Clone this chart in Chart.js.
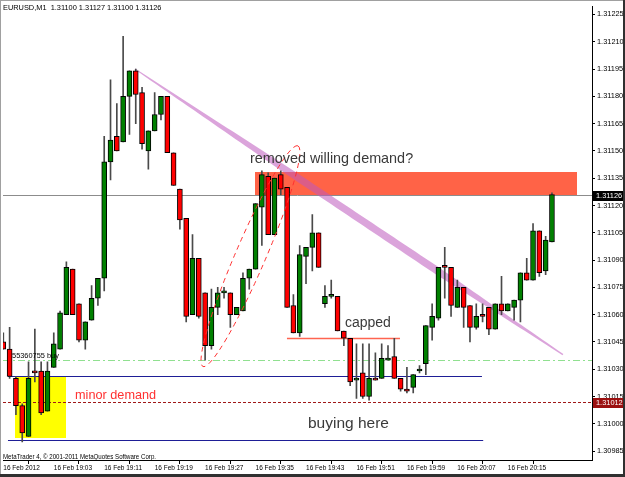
<!DOCTYPE html>
<html>
<head>
<meta charset="utf-8">
<title>EURUSD M1</title>
<script src="https://cdn.jsdelivr.net/npm/chart.js@4.4.1/dist/chart.umd.min.js"></script>
<style>
  html, body { margin: 0; padding: 0; background: #fff; }
  canvas { display: block; }
</style>
</head>
<body>
<canvas id="chart" width="625" height="477"></canvas>
<script>
// EURUSD, M1 - one value per bar, oldest first (bar index = x value)
const opens = [
  1.31045, 1.31041, 1.31025, 1.31010, 1.30993, 1.31029, 1.31029, 1.31007, 1.31031, 1.31041,
  1.31060, 1.31085, 1.31066, 1.31046, 1.31057, 1.31069, 1.31080, 1.31144, 1.31158, 1.31155,
  1.31180, 1.31194, 1.31182, 1.31150, 1.31161, 1.31170, 1.31180, 1.31149, 1.31129, 1.31113,
  1.31060, 1.31091, 1.31072, 1.31043, 1.31064, 1.31072, 1.31072, 1.31060, 1.31062, 1.31080,
  1.31085, 1.31119, 1.31136, 1.31104, 1.31137, 1.31130, 1.31065, 1.31050, 1.31092, 1.31097,
  1.31105, 1.31066, 1.31070, 1.31070, 1.31051, 1.31047, 1.31024, 1.31028, 1.31015, 1.31025,
  1.31025, 1.31035, 1.31037, 1.31025, 1.31019, 1.31020, 1.31029, 1.31033, 1.31053, 1.31058,
  1.31087, 1.31086, 1.31064, 1.31075, 1.31065, 1.31053, 1.31060, 1.31064, 1.31052, 1.31066,
  1.31062, 1.31064, 1.31068, 1.31083, 1.31079, 1.31106, 1.31084, 1.31100
];
const highs = [
  1.31050, 1.31053, 1.31026, 1.31011, 1.31034, 1.31052, 1.31034, 1.31034, 1.31050, 1.31062,
  1.31089, 1.31085, 1.31066, 1.31056, 1.31076, 1.31080, 1.31158, 1.31189, 1.31176, 1.31213,
  1.31194, 1.31195, 1.31185, 1.31161, 1.31182, 1.31180, 1.31180, 1.31149, 1.31129, 1.31113,
  1.31104, 1.31091, 1.31072, 1.31074, 1.31075, 1.31075, 1.31072, 1.31064, 1.31083, 1.31085,
  1.31121, 1.31139, 1.31138, 1.31135, 1.31139, 1.31130, 1.31071, 1.31098, 1.31097, 1.31115,
  1.31105, 1.31076, 1.31079, 1.31070, 1.31051, 1.31047, 1.31044, 1.31044, 1.31044, 1.31039,
  1.31044, 1.31043, 1.31047, 1.31025, 1.31031, 1.31027, 1.31032, 1.31054, 1.31066, 1.31086,
  1.31097, 1.31086, 1.31079, 1.31075, 1.31065, 1.31066, 1.31066, 1.31064, 1.31066, 1.31081,
  1.31066, 1.31068, 1.31083, 1.31091, 1.31110, 1.31106, 1.31103, 1.31127
];
const lows = [
  1.31041, 1.31025, 1.31005, 1.30990, 1.30993, 1.31023, 1.31005, 1.31007, 1.31031, 1.31041,
  1.31060, 1.31060, 1.31045, 1.31041, 1.31057, 1.31065, 1.31073, 1.31134, 1.31150, 1.31155,
  1.31159, 1.31165, 1.31151, 1.31140, 1.31161, 1.31167, 1.31149, 1.31131, 1.31107, 1.31056,
  1.31060, 1.31058, 1.31035, 1.31041, 1.31060, 1.31069, 1.31053, 1.31060, 1.31062, 1.31074,
  1.31085, 1.31098, 1.31104, 1.31104, 1.31126, 1.31064, 1.31050, 1.31048, 1.31077, 1.31084,
  1.31086, 1.31064, 1.31069, 1.31051, 1.31043, 1.31021, 1.31014, 1.31014, 1.31013, 1.31024,
  1.31025, 1.31035, 1.31025, 1.31018, 1.31017, 1.31017, 1.31028, 1.31027, 1.31046, 1.31057,
  1.31069, 1.31059, 1.31064, 1.31053, 1.31045, 1.31052, 1.31056, 1.31049, 1.31052, 1.31060,
  1.31062, 1.31057, 1.31056, 1.31079, 1.31079, 1.31081, 1.31082, 1.31100
];
const closes = [
  1.31041, 1.31026, 1.31010, 1.30995, 1.31025, 1.31028, 1.31006, 1.31029, 1.31044, 1.31061,
  1.31086, 1.31060, 1.31046, 1.31056, 1.31069, 1.31080, 1.31144, 1.31156, 1.31150, 1.31180,
  1.31194, 1.31181, 1.31154, 1.31161, 1.31170, 1.31180, 1.31149, 1.31131, 1.31112, 1.31059,
  1.31091, 1.31059, 1.31043, 1.31064, 1.31072, 1.31073, 1.31060, 1.31064, 1.31080, 1.31085,
  1.31121, 1.31137, 1.31104, 1.31135, 1.31129, 1.31064, 1.31050, 1.31093, 1.31097, 1.31105,
  1.31086, 1.31070, 1.31070, 1.31051, 1.31047, 1.31023, 1.31025, 1.31015, 1.31025, 1.31024,
  1.31036, 1.31036, 1.31025, 1.31019, 1.31018, 1.31027, 1.31029, 1.31054, 1.31059, 1.31086,
  1.31086, 1.31065, 1.31075, 1.31064, 1.31053, 1.31059, 1.31059, 1.31052, 1.31066, 1.31062,
  1.31066, 1.31068, 1.31083, 1.31079, 1.31106, 1.31083, 1.31101, 1.31126
];

// time axis
const timeTickBars = [0, 8, 16, 24, 32, 40, 48, 56, 64, 72, 80];
const timeLabels = ['16 Feb 2012', '16 Feb 19:03', '16 Feb 19:11', '16 Feb 19:19', '16 Feb 19:27',
  '16 Feb 19:35', '16 Feb 19:43', '16 Feb 19:51', '16 Feb 19:59', '16 Feb 20:07', '16 Feb 20:15'];

// price axis
const priceTicks = [1.30985, 1.31000, 1.31015, 1.31030, 1.31045, 1.31060, 1.31075, 1.31090, 1.31105,
  1.31120, 1.31135, 1.31150, 1.31165, 1.31180, 1.31195, 1.31210, 1.31225];
const priceMin = 1.309801;
const priceMax = 1.312294;
const barMin = -0.05;
const barMax = 93.35;

// header values (O H L C of the last bar)
const symbol = 'EURUSD,M1';
const bidPrice = 1.31126;

// drawn objects: zones (bar from, bar to, upper price, lower price)
const zoneFrom = [1.85, 39.9];
const zoneTo = [9.94, 90.96];
const zoneTop = [1.310255, 1.311386];
const zoneBottom = [1.30992, 1.31126];

// horizontal levels (price, bar from, bar to)
const levelPrice = [1.31126, 1.31035, 1.31012, 1.31026, 1.30991, 1.31047];
const levelFrom = [barMin, barMin, barMin, 0.74, 0.74, 44.98];
const levelTo = [barMax, barMax, barMax, 75.9, 76.1, 62.9];

// falling trend line (bar, price) at both ends
const trendBars = [20.88, 88.74];
const trendPrices = [1.31195, 1.31038];

// hand-drawn ellipse, ends of its long axis (bar, price)
const ellipseBars = [31.66, 46.72];
const ellipsePrices = [1.310315, 1.311528];

// text notes (bar, price at baseline)
const noteTexts = ['removed willing demand?', 'capped', 'buying here', 'minor demand', '55360755 buy'];
const noteBars = [39.11, 54.17, 48.31, 11.37, 1.38];
const notePrices = [1.311435, 1.310533, 1.309976, 1.310134, 1.310364];

// ---- styles ----
const GREEN = '#008000';
const RED = '#ff0000';
const zoneColors = ['#ffff00', '#ff6347'];
const levelStyles = [
  { color: '#8c8c8c', width: 1, dash: [] },
  { color: '#90e090', width: 1, dash: [7, 3, 2, 3] },
  { color: '#a01818', width: 1, dash: [3, 2] },
  { color: '#1e1e96', width: 1, dash: [] },
  { color: '#1e1e96', width: 1, dash: [] },
  { color: '#ff6450', width: 1.5, dash: [] }
];
const noteStyles = [
  { font: '14.4px "Liberation Sans"', color: '#3a3a3a' },
  { font: '14px "Liberation Sans"', color: '#3a3a3a' },
  { font: '15.5px "Liberation Sans"', color: '#3a3a3a' },
  { font: '12.7px "Liberation Sans"', color: '#ff3030' },
  { font: '7.4px "Liberation Sans"', color: '#000' }
];
// band width of the trend line along its length
const bandT = [0, 0.13, 0.245, 0.36, 0.71, 0.81, 0.875, 1];
const bandW = [1, 3, 5, 7, 7.5, 5, 3.5, 1.5];

function bandWidth(t) {
  for (let k = 1; k < bandT.length; k++) {
    if (t <= bandT[k]) {
      const f = (t - bandT[k - 1]) / (bandT[k] - bandT[k - 1]);
      return bandW[k - 1] + f * (bandW[k] - bandW[k - 1]);
    }
  }
  return bandW[bandW.length - 1];
}

function fitText(ctx, text, x, y, width) {
  const w = ctx.measureText(text).width;
  ctx.save();
  ctx.translate(x, y);
  if (width && w > width) ctx.scale(width / w, 1);
  ctx.fillText(text, 0, 0);
  ctx.restore();
}

const overlay = {
  id: 'overlay',
  beforeDatasetsDraw(chart) {
    const { ctx, chartArea: a, scales: { x, y } } = chart;
    ctx.save();
    ctx.beginPath();
    ctx.rect(a.left, a.top, a.right - a.left, a.bottom - a.top);
    ctx.clip();

    // zones
    zoneFrom.forEach((b, i) => {
      const x0 = Math.round(x.getPixelForValue(b));
      const x1 = Math.round(x.getPixelForValue(zoneTo[i]));
      const y0 = Math.round(y.getPixelForValue(zoneTop[i]));
      const y1 = Math.round(y.getPixelForValue(zoneBottom[i]));
      ctx.fillStyle = zoneColors[i];
      ctx.fillRect(x0, y0, x1 - x0, y1 - y0);
    });

    // levels
    levelPrice.forEach((p, i) => {
      const s = levelStyles[i];
      const py = Math.round(y.getPixelForValue(p)) + 0.5;
      ctx.beginPath();
      ctx.strokeStyle = s.color;
      ctx.lineWidth = s.width;
      ctx.setLineDash(s.dash);
      ctx.moveTo(x.getPixelForValue(levelFrom[i]), py);
      ctx.lineTo(x.getPixelForValue(levelTo[i]), py);
      ctx.stroke();
    });
    ctx.setLineDash([]);

    // trend line as a tapered band
    const x0 = x.getPixelForValue(trendBars[0]), y0 = y.getPixelForValue(trendPrices[0]);
    const x1 = x.getPixelForValue(trendBars[1]), y1 = y.getPixelForValue(trendPrices[1]);
    const dx = x1 - x0, dy = y1 - y0, len = Math.hypot(dx, dy);
    const nx = -dy / len, ny = dx / len;
    const side1 = [], side2 = [];
    for (let k = 0; k <= 80; k++) {
      const t = k / 80, h = bandWidth(t) / 2;
      const cx = x0 + dx * t, cy = y0 + dy * t;
      side1.push([cx + nx * h, cy + ny * h]);
      side2.push([cx - nx * h, cy - ny * h]);
    }
    ctx.beginPath();
    side1.forEach((p, k) => (k ? ctx.lineTo(p[0], p[1]) : ctx.moveTo(p[0], p[1])));
    side2.reverse().forEach(p => ctx.lineTo(p[0], p[1]));
    ctx.closePath();
    ctx.fillStyle = 'rgba(190, 90, 190, 0.55)';
    ctx.fill();
    ctx.restore();
  },
  afterDatasetsDraw(chart) {
    const { ctx, chartArea: a, scales: { x, y } } = chart;
    ctx.save();
    ctx.beginPath();
    ctx.rect(a.left, a.top, a.right - a.left, a.bottom - a.top);
    ctx.clip();

    // dashed ellipse round the rally
    const ex0 = x.getPixelForValue(ellipseBars[0]), ey0 = y.getPixelForValue(ellipsePrices[0]);
    const ex1 = x.getPixelForValue(ellipseBars[1]), ey1 = y.getPixelForValue(ellipsePrices[1]);
    ctx.beginPath();
    ctx.ellipse((ex0 + ex1) / 2, (ey0 + ey1) / 2, Math.hypot(ex1 - ex0, ey1 - ey0) / 2, 15,
      Math.atan2(ey1 - ey0, ex1 - ex0), 0, Math.PI * 2);
    ctx.setLineDash([5, 4]);
    ctx.strokeStyle = '#ff3030';
    ctx.lineWidth = 1;
    ctx.stroke();
    ctx.setLineDash([]);

    // notes
    ctx.textBaseline = 'alphabetic';
    ctx.textAlign = 'left';
    noteTexts.forEach((t, i) => {
      ctx.font = noteStyles[i].font;
      ctx.fillStyle = noteStyles[i].color;
      ctx.fillText(t, x.getPixelForValue(noteBars[i]), y.getPixelForValue(notePrices[i]));
    });
    ctx.restore();
  },
  afterDraw(chart) {
    const { ctx, chartArea: a, scales: { y } } = chart;
    ctx.save();
    ctx.textBaseline = 'alphabetic';
    ctx.textAlign = 'left';
    ctx.fillStyle = '#000';
    ctx.font = '7.4px "Liberation Sans"';
    const n = closes.length - 1;
    const head = symbol + '  ' + [opens[n], highs[n], lows[n], closes[n]].map(v => v.toFixed(5)).join(' ');
    fitText(ctx, head, 3, 9.5, 161);
    fitText(ctx, 'MetaTrader 4, \u00a9 2001-2011 MetaQuotes Software Corp.', 3, 458.5, 153);

    // price tags on the axis
    const tags = [[bidPrice, '#000000'], [levelPrice[2], '#9b1010']];
    tags.forEach(([p, c]) => {
      const py = Math.round(y.getPixelForValue(p));
      ctx.fillStyle = c;
      ctx.fillRect(a.right + 1, py - 4, 30, 10);
      ctx.fillStyle = '#fff';
      ctx.font = '7.4px "Liberation Sans"';
      ctx.textBaseline = 'middle';
      ctx.fillText(p.toFixed(5), a.right + 4, py + 1);
    });

    // window frame
    ctx.fillStyle = '#a0a0a0';
    ctx.fillRect(0, 0, 625, 1);
    ctx.fillRect(0, 0, 1, 477);
    ctx.fillStyle = '#303030';
    ctx.fillRect(0, 474, 625, 3);
    ctx.fillRect(623, 0, 2, 477);
    ctx.restore();
  }
};

const bars = opens.map((o, i) => i);

new Chart(document.getElementById('chart'), {
  type: 'bar',
  data: {
    datasets: [
      {
        label: 'body',
        order: 0,
        data: bars.map(i => ({ x: i, y: [opens[i], closes[i]] })),
        backgroundColor: c => (closes[c.dataIndex] >= opens[c.dataIndex] ? GREEN : RED),
        borderColor: '#000',
        borderWidth: 1,
        borderSkipped: false,
        barThickness: 5,
        minBarLength: 2,
        grouped: false
      },
      {
        label: 'wick',
        order: 1,
        data: bars.map(i => ({ x: i, y: [lows[i], highs[i]] })),
        backgroundColor: '#4a4a4a',
        borderWidth: 0,
        barThickness: 1,
        minBarLength: 1,
        grouped: false
      }
    ]
  },
  options: {
    responsive: false,
    animation: false,
    events: [],
    layout: { padding: { left: 3, top: 4, right: 0, bottom: 0 } },
    plugins: { legend: { display: false }, tooltip: { enabled: false } },
    scales: {
      x: {
        type: 'linear',
        min: barMin,
        max: barMax,
        offset: false,
        afterBuildTicks: axis => { axis.ticks = timeTickBars.map(v => ({ value: v })); },
        afterFit: axis => { axis.height = 17; },
        grid: { drawOnChartArea: false, drawTicks: true, tickLength: 4, color: '#000' },
        border: { display: true, color: '#000' },
        ticks: {
          autoSkip: false,
          maxRotation: 0,
          align: 'start',
          padding: 0,
          color: '#000',
          font: { family: 'Liberation Sans', size: 6.5 },
          callback: (v, i) => timeLabels[i]
        }
      },
      y: {
        position: 'right',
        min: priceMin,
        max: priceMax,
        afterBuildTicks: axis => { axis.ticks = priceTicks.map(v => ({ value: v })); },
        afterFit: axis => { axis.width = 33; },
        grid: { drawOnChartArea: false, drawTicks: true, tickLength: 3, color: '#000' },
        border: { display: true, color: '#000' },
        ticks: {
          padding: 2,
          color: '#000',
          font: { family: 'Liberation Sans', size: 7.4 },
          callback: v => Number(v).toFixed(5)
        }
      }
    }
  },
  plugins: [overlay]
});
</script>
</body>
</html>
